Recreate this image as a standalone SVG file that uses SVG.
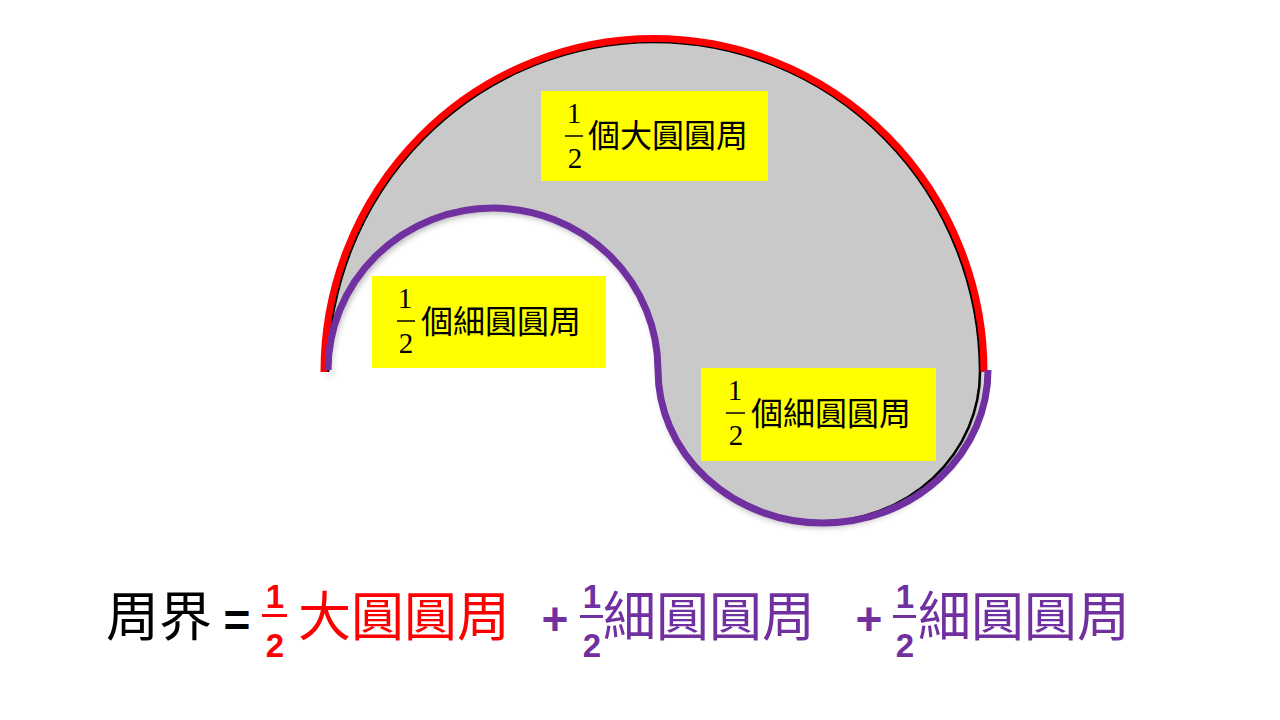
<svg xmlns="http://www.w3.org/2000/svg" width="1280" height="720" viewBox="0 0 1280 720">
<defs>
<style>
.box{fill:#FFFF00}
.num{font-family:"Liberation Serif","Noto Sans CJK TC",serif;font-size:29px;fill:#000;text-anchor:middle}
.lbl{font-family:"Liberation Serif","Noto Sans CJK TC",serif;font-size:32px;fill:#000}
.bar{stroke:#000;stroke-width:1.5}
.big{font-family:"Noto Sans CJK TC","Noto Sans CJK SC",sans-serif;font-size:53px}
.bnum{font-family:"Liberation Sans","Noto Sans",sans-serif;font-weight:bold;font-size:33px;text-anchor:middle}
.op{font-family:"Liberation Sans","Noto Sans",sans-serif;font-weight:bold;font-size:46px;text-anchor:middle}
.red{fill:#FF0000}
.pur{fill:#7030A0}
</style>
<filter id="sh" x="-10%" y="-10%" width="120%" height="130%">
<feGaussianBlur in="SourceAlpha" stdDeviation="3"/>
<feOffset dx="2" dy="4" result="b"/>
<feComponentTransfer><feFuncA type="linear" slope="0.3"/></feComponentTransfer>
<feMerge><feMergeNode/><feMergeNode in="SourceGraphic"/></feMerge>
</filter>
</defs>
<rect width="1280" height="720" fill="#FFFFFF"/>
<g id="shape">
<path d="M 328 372 A 326 330 0 0 1 980 372 A 161 150 0 0 1 658 372 A 165 164 0 0 0 328 372 Z" fill="#C9C9C9" stroke="#000" stroke-width="2.5" filter="url(#sh)"/>
</g>
<g id="connectors" fill="none" stroke-linecap="butt">
<path d="M 324 372 A 330 333.5 0 0 1 984 372" stroke="#FF0000" stroke-width="7"/>
<path d="M 658 370 A 165 162 0 0 0 328 370" stroke="#7030A0" stroke-width="7"/>
<path d="M 988 370 A 165 153 0 0 1 658 370" stroke="#7030A0" stroke-width="7"/>
</g>
<g id="label-big">
<rect class="box" x="541" y="91" width="227" height="90"/>
<text class="num" x="574" y="123">1</text>
<line class="bar" x1="565" y1="136" x2="583" y2="136"/>
<text class="num" x="575" y="168">2</text>
<text class="lbl" x="588" y="147">個大圓圓周</text>
</g>
<g id="label-small-left">
<rect class="box" x="372" y="276" width="234" height="92"/>
<text class="num" x="405" y="308">1</text>
<line class="bar" x1="397" y1="321" x2="415" y2="321"/>
<text class="num" x="406" y="353">2</text>
<text class="lbl" x="421" y="333">個細圓圓周</text>
</g>
<g id="label-small-right">
<rect class="box" x="701" y="368" width="235" height="93"/>
<text class="num" x="735" y="400">1</text>
<line class="bar" x1="726" y1="413" x2="745" y2="413"/>
<text class="num" x="736" y="445">2</text>
<text class="lbl" x="751" y="425">個細圓圓周</text>
</g>
<g id="formula">
<text class="big" x="106" y="636" fill="#000">周界</text>
<text class="op" x="237" y="636" fill="#000">=</text>
<text class="bnum red" x="275" y="608">1</text>
<rect class="red" x="262" y="614" width="25" height="3"/>
<text class="bnum red" x="275" y="657">2</text>
<text class="big red" x="298" y="636">大圓圓周</text>
<text class="op pur" x="555" y="635">+</text>
<text class="bnum pur" x="592" y="608">1</text>
<rect class="pur" x="580" y="615" width="23" height="3"/>
<text class="bnum pur" x="592" y="657">2</text>
<text class="big pur" x="603" y="636">細圓圓周</text>
<text class="op pur" x="869" y="635">+</text>
<text class="bnum pur" x="905" y="608">1</text>
<rect class="pur" x="893" y="615" width="23" height="3"/>
<text class="bnum pur" x="905" y="657">2</text>
<text class="big pur" x="918" y="636">細圓圓周</text>
</g>
</svg>
